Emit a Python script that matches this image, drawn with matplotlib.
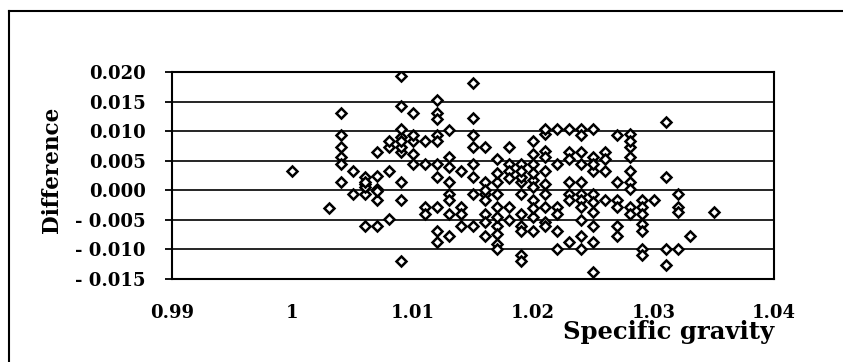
import matplotlib
matplotlib.use('Agg')
import matplotlib.pyplot as plt
from matplotlib.lines import Line2D
import numpy as np

# specific gravity columns (data recorded to 0.001) and the differences read at each one
sg_cols = [1.000, 1.003, 1.004, 1.005, 1.006, 1.007, 1.008, 1.009, 1.010, 1.011,
           1.012, 1.013, 1.014, 1.015, 1.016, 1.017, 1.018, 1.019, 1.020, 1.021,
           1.022, 1.023, 1.024, 1.025, 1.026, 1.027, 1.028, 1.029, 1.030, 1.031,
           1.032, 1.033, 1.035]
diff_cols = [
    [0.0032],
    [-0.0030],
    [0.0131, 0.0093, 0.0073, 0.0057, 0.0044, 0.0014],
    [0.0033, -0.0006],
    [0.0022, 0.0011, -0.0006, -0.0060, 0.0005, 0.0014],
    [0.0065, 0.0025, 0.0002, -0.0017, -0.0060, -0.0002],
    [0.0033, -0.0048, 0.0074, 0.0084],
    [0.0193, 0.0142, 0.0090, 0.0065, 0.0104, 0.0073, 0.0014, -0.0017, -0.0119, 0.0084],
    [0.0131, 0.0084, 0.0062, 0.0044, 0.0093],
    [0.0084, 0.0044, -0.0029, -0.0040],
    [0.0152, 0.0131, 0.0121, 0.0093, 0.0044, 0.0022, -0.0029, -0.0068, -0.0088, 0.0084],
    [0.0102, 0.0056, 0.0014, -0.0006, -0.0017, -0.0077, 0.0040, -0.0040],
    [0.0033, -0.0029, -0.0040, -0.0060],
    [0.0181, 0.0123, 0.0093, 0.0073, 0.0044, 0.0022, -0.0006, -0.0060],
    [0.0074, 0.0014, -0.0006, -0.0017, -0.0040, -0.0054, -0.0077, 0.0000],
    [0.0053, 0.0014, -0.0006, -0.0029, -0.0060, -0.0074, -0.0091, -0.0099, 0.0030, -0.0045],
    [0.0074, 0.0044, 0.0033, -0.0029, 0.0020, -0.0050],
    [0.0014, -0.0040, -0.0006, -0.0060, -0.0068, -0.0110, -0.0119, 0.0044, 0.0022, 0.0033],
    [0.0084, 0.0062, 0.0044, 0.0017, 0.0005, -0.0017, -0.0046, -0.0068, 0.0030, -0.0030],
    [0.0096, 0.0104, 0.0067, 0.0056, 0.0033, -0.0006, -0.0029, -0.0054, -0.0060, 0.0010],
    [0.0104, 0.0044, -0.0029, -0.0040, -0.0068, -0.0099],
    [0.0065, 0.0053, 0.0014, -0.0006, -0.0017, -0.0088, 0.0104],
    [0.0104, 0.0093, 0.0065, 0.0044, 0.0014, -0.0006, -0.0017, -0.0029, -0.0051, -0.0077, -0.0099],
    [0.0104, 0.0056, 0.0033, -0.0006, -0.0037, -0.0060, -0.0088, -0.0139, 0.0044, -0.0020],
    [0.0065, 0.0033, -0.0017, 0.0053],
    [0.0093, 0.0014, -0.0017, -0.0029, -0.0060, -0.0077],
    [0.0096, 0.0073, 0.0056, 0.0033, 0.0014, 0.0002, -0.0029, -0.0040, 0.0084],
    [-0.0017, -0.0029, -0.0040, -0.0057, -0.0068, -0.0099, -0.0110],
    [-0.0017],
    [0.0115, 0.0022, -0.0099, -0.0127],
    [-0.0006, -0.0029, -0.0037, -0.0099],
    [-0.0077],
    [-0.0037],
]

x_ticks = [0.99, 1.0, 1.01, 1.02, 1.03, 1.04]
x_labels = ['0.99', '1', '1.01', '1.02', '1.03', '1.04']
y_ticks = [-0.015, -0.010, -0.005, 0.0, 0.005, 0.010, 0.015, 0.020]
y_labels = ['- 0.015', '- 0.010', '- 0.005', '0.000', '0.005', '0.010', '0.015', '0.020']

####### flatten the columns into points
sg = []
diff = []
for s, col in zip(sg_cols, diff_cols):
    for d in col:
        sg.append(s)
        diff.append(d)

plt.rcParams['font.family'] = ['DejaVu Serif']
plt.rcParams['font.weight'] = 'bold'

fig = plt.figure(figsize=(8.43, 3.62), dpi=100)
W, H = 843.0, 362.0
ax = fig.add_axes([172/W, 1-279/H, (774-172)/W, (279-72)/H])

ax.plot(sg, diff, linestyle='none', marker='D', markersize=5.3,
        markerfacecolor='white', markeredgecolor='black', markeredgewidth=1.8, zorder=3)

ax.set_xlim(0.99, 1.04)
ax.set_ylim(-0.015, 0.020)
ax.set_xticks(x_ticks)
ax.set_xticklabels(x_labels)
ax.set_yticks(y_ticks)
ax.set_yticklabels(y_labels)
ax.tick_params(axis='x', length=0, pad=18, labelsize=13)
ax.tick_params(axis='y', length=5, width=1.3, pad=14, labelsize=13, direction='out')

ax.yaxis.grid(True, color='black', linewidth=1.2)
ax.set_axisbelow(True)
for sp in ax.spines.values():
    sp.set_linewidth(1.5)
    sp.set_color('black')

ax.set_ylabel('Difference', fontsize=15.5, fontweight='bold')
ax.yaxis.set_label_coords(-0.181, 0.527)
ax.set_xlabel('Specific gravity', fontsize=17.5, fontweight='bold', ha='right', va='top')
ax.xaxis.set_label_coords(1.0, -0.2)

####### frame around the figure (left and top only, as in the scan)
fig.add_artist(Line2D([9/W, 9/W], [0, 1-11/H], color='black', linewidth=1.5))
fig.add_artist(Line2D([9/W, 1], [1-11/H, 1-11/H], color='black', linewidth=1.5))

fig.savefig('out.png', dpi=100, facecolor='white')
